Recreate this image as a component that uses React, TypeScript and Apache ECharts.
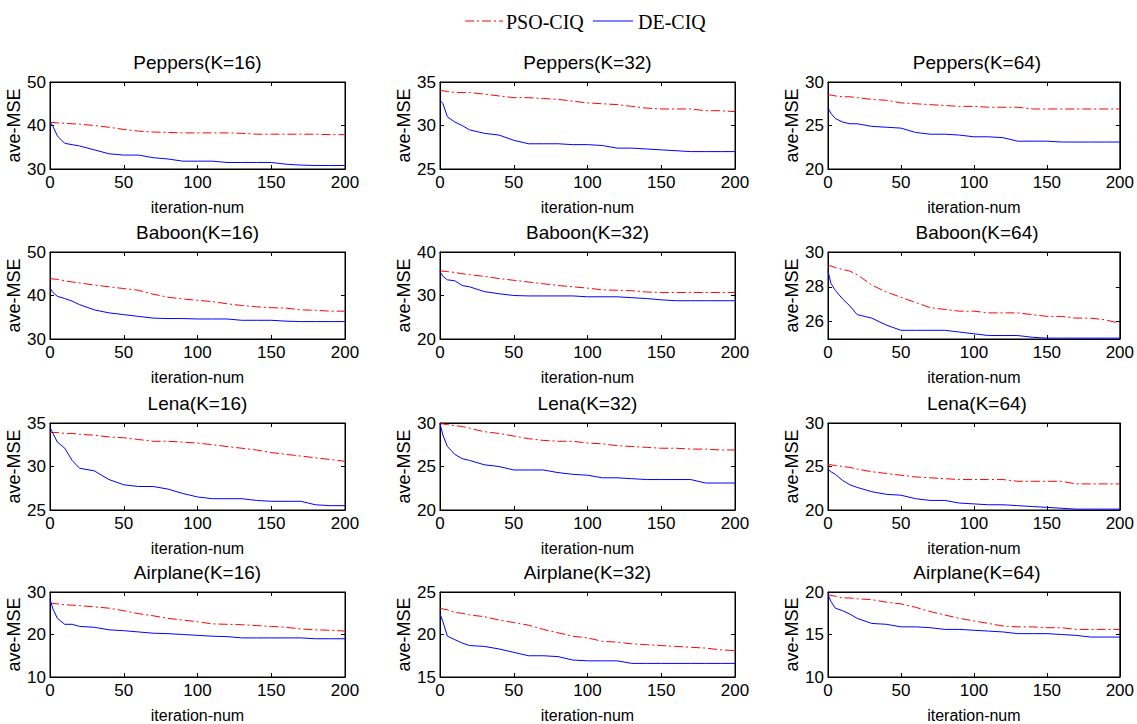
import React, { useEffect, useRef } from "react";
import * as echarts from "echarts";

const iterations = [0, 2, 5, 10, 15, 20, 30, 40, 50, 60, 70, 80, 90, 100, 110, 120, 130, 140, 150, 160, 170, 180, 190, 200];
const xTicks = [0, 50, 100, 150, 200];
const seriesNames = ["PSO-CIQ", "DE-CIQ"];

const titles = [
  "Peppers(K=16)", "Peppers(K=32)", "Peppers(K=64)",
  "Baboon(K=16)", "Baboon(K=32)", "Baboon(K=64)",
  "Lena(K=16)", "Lena(K=32)", "Lena(K=64)",
  "Airplane(K=16)", "Airplane(K=32)", "Airplane(K=64)",
];

const yMin = [30, 25, 20, 30, 20, 25, 25, 20, 20, 10, 15, 10];
const yMax = [50, 35, 30, 50, 40, 30, 35, 30, 30, 30, 25, 20];
const yTicks = [
  [30, 40, 50], [25, 30, 35], [20, 25, 30],
  [30, 40, 50], [20, 30, 40], [26, 28, 30],
  [25, 30, 35], [20, 25, 30], [20, 25, 30],
  [10, 20, 30], [15, 20, 25], [10, 15, 20],
];

const psoPeppers16 = [40.7, 40.7, 40.6, 40.5, 40.4, 40.3, 40.0, 39.6, 39.1, 38.7, 38.5, 38.4, 38.3, 38.3, 38.3, 38.3, 38.2, 38.0, 38.0, 38.0, 38.0, 38.0, 37.9, 37.9];
const dePeppers16 = [40.8, 39.8, 37.6, 35.9, 35.6, 35.3, 34.4, 33.5, 33.2, 33.2, 32.6, 32.3, 31.8, 31.8, 31.8, 31.5, 31.5, 31.5, 31.5, 31.1, 30.9, 30.8, 30.8, 30.8];
const psoPeppers32 = [34.0, 34.0, 33.9, 33.8, 33.8, 33.8, 33.6, 33.4, 33.2, 33.2, 33.1, 33.0, 32.8, 32.6, 32.5, 32.4, 32.2, 32.0, 31.9, 31.9, 31.9, 31.7, 31.7, 31.6];
const dePeppers32 = [32.9, 32.5, 31.0, 30.4, 30.0, 29.5, 29.1, 28.9, 28.3, 27.9, 27.9, 27.9, 27.8, 27.8, 27.7, 27.4, 27.4, 27.3, 27.2, 27.1, 27.0, 27.0, 27.0, 27.0];
const psoPeppers64 = [28.5, 28.5, 28.4, 28.3, 28.3, 28.2, 28.0, 27.9, 27.6, 27.5, 27.4, 27.3, 27.2, 27.2, 27.1, 27.1, 27.1, 26.9, 26.9, 26.9, 26.9, 26.9, 26.9, 26.9];
const dePeppers64 = [27.0, 26.4, 25.8, 25.4, 25.2, 25.2, 24.9, 24.8, 24.7, 24.2, 24.0, 24.0, 23.9, 23.7, 23.7, 23.6, 23.2, 23.2, 23.2, 23.1, 23.1, 23.1, 23.1, 23.1];
const psoBaboon16 = [43.9, 43.8, 43.7, 43.4, 43.1, 42.9, 42.4, 42.0, 41.6, 41.2, 40.3, 39.6, 39.2, 38.9, 38.6, 38.1, 37.7, 37.4, 37.2, 37.1, 36.7, 36.6, 36.4, 36.4];
const deBaboon16 = [41.7, 40.7, 39.8, 39.3, 38.7, 37.9, 36.7, 36.0, 35.6, 35.2, 34.8, 34.7, 34.7, 34.6, 34.6, 34.6, 34.3, 34.3, 34.3, 34.1, 34.0, 34.0, 34.0, 34.0];
const psoBaboon32 = [35.6, 35.6, 35.5, 35.3, 35.0, 34.8, 34.4, 33.9, 33.5, 33.1, 32.7, 32.3, 32.0, 31.7, 31.3, 31.2, 31.1, 30.8, 30.7, 30.7, 30.7, 30.7, 30.7, 30.7];
const deBaboon32 = [35.5, 34.4, 33.6, 33.4, 32.3, 32.0, 30.9, 30.4, 30.0, 29.9, 29.9, 29.9, 29.9, 29.7, 29.7, 29.7, 29.5, 29.3, 29.0, 28.8, 28.8, 28.8, 28.8, 28.8];
const psoBaboon64 = [29.2, 29.2, 29.1, 29.0, 28.9, 28.7, 28.1, 27.7, 27.4, 27.1, 26.8, 26.7, 26.6, 26.6, 26.5, 26.5, 26.5, 26.4, 26.3, 26.3, 26.2, 26.2, 26.1, 25.9];
const deBaboon64 = [28.9, 28.2, 27.8, 27.3, 26.9, 26.4, 26.2, 25.8, 25.5, 25.5, 25.5, 25.5, 25.4, 25.3, 25.2, 25.2, 25.2, 25.1, 25.05, 25.05, 25.05, 25.05, 25.05, 25.05];
const psoLena16 = [33.9, 33.9, 33.9, 33.8, 33.8, 33.7, 33.6, 33.4, 33.3, 33.1, 32.9, 32.9, 32.8, 32.7, 32.5, 32.3, 32.1, 31.9, 31.6, 31.4, 31.2, 31.0, 30.8, 30.6];
const deLena16 = [34.5, 33.8, 32.8, 32.1, 30.7, 29.8, 29.5, 28.5, 27.9, 27.7, 27.7, 27.4, 26.9, 26.5, 26.3, 26.3, 26.3, 26.1, 26.0, 26.0, 26.0, 25.6, 25.5, 25.5];
const psoLena32 = [29.9, 29.9, 29.8, 29.7, 29.6, 29.4, 29.0, 28.8, 28.5, 28.2, 28.0, 27.9, 27.9, 27.7, 27.6, 27.4, 27.3, 27.2, 27.1, 27.1, 27.0, 27.0, 26.9, 26.9];
const deLena32 = [29.9, 28.6, 27.3, 26.4, 25.9, 25.7, 25.2, 25.0, 24.6, 24.6, 24.6, 24.3, 24.1, 24.0, 23.7, 23.7, 23.6, 23.5, 23.5, 23.5, 23.5, 23.1, 23.1, 23.1];
const psoLena64 = [25.2, 25.2, 25.1, 25.0, 24.9, 24.7, 24.4, 24.2, 24.0, 23.8, 23.7, 23.6, 23.5, 23.5, 23.5, 23.5, 23.3, 23.3, 23.3, 23.3, 23.0, 23.0, 23.0, 23.0];
const deLena64 = [24.7, 24.4, 24.1, 23.4, 22.9, 22.6, 22.1, 21.8, 21.7, 21.3, 21.1, 21.1, 20.8, 20.7, 20.6, 20.6, 20.5, 20.4, 20.3, 20.2, 20.1, 20.1, 20.1, 20.1];
const psoAirplane16 = [27.4, 27.3, 27.2, 27.0, 26.9, 26.8, 26.5, 26.2, 25.6, 24.9, 24.4, 23.8, 23.4, 23.0, 22.5, 22.4, 22.3, 22.1, 21.9, 21.7, 21.3, 21.1, 21.0, 20.8];
const deAirplane16 = [28.3, 26.0, 23.8, 22.4, 22.4, 21.9, 21.7, 21.1, 20.9, 20.6, 20.3, 20.2, 20.0, 19.8, 19.6, 19.5, 19.2, 19.2, 19.2, 19.2, 19.2, 19.0, 19.0, 19.0];
const psoAirplane32 = [23.1, 23.0, 22.9, 22.6, 22.5, 22.3, 22.1, 21.7, 21.4, 21.1, 20.6, 20.2, 19.8, 19.6, 19.2, 19.1, 18.9, 18.8, 18.7, 18.6, 18.5, 18.4, 18.2, 18.1];
const deAirplane32 = [22.4, 21.5, 19.8, 19.4, 19.0, 18.7, 18.6, 18.3, 17.9, 17.5, 17.5, 17.4, 17.0, 16.9, 16.9, 16.9, 16.6, 16.6, 16.6, 16.6, 16.6, 16.6, 16.6, 16.6];
const psoAirplane64 = [19.7, 19.6, 19.5, 19.3, 19.3, 19.2, 19.1, 18.8, 18.6, 18.2, 17.7, 17.3, 16.9, 16.6, 16.3, 16.0, 15.9, 15.9, 15.8, 15.8, 15.6, 15.6, 15.6, 15.6];
const deAirplane64 = [19.7, 18.9, 18.1, 17.8, 17.4, 16.9, 16.3, 16.2, 15.9, 15.9, 15.8, 15.6, 15.6, 15.5, 15.4, 15.3, 15.1, 15.1, 15.1, 15.0, 14.9, 14.7, 14.7, 14.7];

const psoSeries = [psoPeppers16, psoPeppers32, psoPeppers64, psoBaboon16, psoBaboon32, psoBaboon64, psoLena16, psoLena32, psoLena64, psoAirplane16, psoAirplane32, psoAirplane64];
const deSeries = [dePeppers16, dePeppers32, dePeppers64, deBaboon16, deBaboon32, deBaboon64, deLena16, deLena32, deLena64, deAirplane16, deAirplane32, deAirplane64];

const colLeft = [50, 440, 828];
const colWidth = [295, 295, 298];
const rowTop = [82, 252, 423, 592];
const rowHeight = [87, 87, 87, 89];

const SANS = "'Liberation Sans', Arial, Helvetica, sans-serif";
const NARROW = "'Liberation Sans Narrow', 'Arial Narrow', 'Liberation Sans', Arial, sans-serif";
const SERIF = "'Liberation Serif', 'Times New Roman', serif";
const RED = "#ff0000";
const BLUE = "#0000ff";
const DASHDOT = [9, 3, 2, 3];

function buildOption() {
  const grids: any[] = [];
  const xAxes: any[] = [];
  const yAxes: any[] = [];
  const titleArr: any[] = [];
  const series: any[] = [];
  for (let i = 0; i < 12; i++) {
    const r = Math.floor(i / 3);
    const c = i % 3;
    const left = colLeft[c];
    const top = rowTop[r];
    const width = colWidth[c];
    const height = rowHeight[r];
    grids.push({ left, top, width, height, show: true, borderColor: "#000", borderWidth: 1, backgroundColor: "#fff", containLabel: false });
    titleArr.push({
      text: titles[i],
      left: left + width / 2,
      top: top - 31,
      textAlign: "center",
      padding: 0,
      textStyle: { fontFamily: SANS, fontSize: 19, fontWeight: "normal", color: "#000", lineHeight: 22 },
    });
    const tickCommon = { show: true, inside: true, length: 4, lineStyle: { color: "#000", width: 1 } };
    const lineCommon = { show: true, onZero: false, lineStyle: { color: "#000", width: 1 } };
    xAxes.push({
      type: "value", gridIndex: i, position: "bottom", min: 0, max: 200, interval: 50,
      axisLine: lineCommon, axisTick: { ...tickCommon, customValues: xTicks },
      axisLabel: { show: true, margin: 5, color: "#000", fontFamily: NARROW, fontSize: 17, customValues: xTicks },
      splitLine: { show: false },
      name: "iteration-num", nameLocation: "middle", nameGap: 30,
      nameTextStyle: { fontFamily: SANS, fontSize: 16, color: "#000" },
    });
    xAxes.push({
      type: "value", gridIndex: i, position: "top", min: 0, max: 200, interval: 50,
      axisLine: lineCommon, axisTick: { ...tickCommon, customValues: xTicks },
      axisLabel: { show: false }, splitLine: { show: false },
    });
    yAxes.push({
      type: "value", gridIndex: i, position: "left", min: yMin[i], max: yMax[i],
      axisLine: lineCommon, axisTick: { ...tickCommon, customValues: yTicks[i] },
      axisLabel: { show: true, margin: 4, color: "#000", fontFamily: NARROW, fontSize: 17, customValues: yTicks[i] },
      splitLine: { show: false },
      name: "ave-MSE", nameLocation: "middle", nameGap: 24, nameRotate: 90,
      nameTextStyle: { fontFamily: SANS, fontSize: 18, color: "#000" },
    });
    yAxes.push({
      type: "value", gridIndex: i, position: "right", min: yMin[i], max: yMax[i],
      axisLine: lineCommon, axisTick: { ...tickCommon, customValues: yTicks[i] },
      axisLabel: { show: false }, splitLine: { show: false },
    });
    series.push({
      name: seriesNames[0], type: "line", xAxisIndex: 2 * i, yAxisIndex: 2 * i,
      data: iterations.map((x, k) => [x, psoSeries[i][k]]),
      symbol: "none", showSymbol: false,
      lineStyle: { color: RED, width: 1, type: DASHDOT },
      itemStyle: { color: RED },
    });
    series.push({
      name: seriesNames[1], type: "line", xAxisIndex: 2 * i, yAxisIndex: 2 * i,
      data: iterations.map((x, k) => [x, deSeries[i][k]]),
      symbol: "none", showSymbol: false,
      lineStyle: { color: BLUE, width: 1, type: "solid" },
      itemStyle: { color: BLUE },
    });
  }
  const legendY = 21;
  const graphic = [
    { type: "line", shape: { x1: 465, y1: legendY, x2: 503, y2: legendY }, style: { stroke: RED, lineWidth: 1, lineDash: DASHDOT } },
    { type: "text", x: 506, y: legendY + 1, style: { text: seriesNames[0], font: `20px ${SERIF}`, fill: "#000", textVerticalAlign: "middle", verticalAlign: "middle" } },
    { type: "line", shape: { x1: 593, y1: legendY, x2: 633, y2: legendY }, style: { stroke: BLUE, lineWidth: 1 } },
    { type: "text", x: 638, y: legendY + 1, style: { text: seriesNames[1], font: `20px ${SERIF}`, fill: "#000", textVerticalAlign: "middle", verticalAlign: "middle" } },
  ];
  return {
    animation: false,
    backgroundColor: "#fff",
    title: titleArr,
    grid: grids,
    xAxis: xAxes,
    yAxis: yAxes,
    series,
    graphic,
  };
}

export default function App() {
  const ref = useRef<HTMLDivElement>(null);
  useEffect(() => {
    if (!ref.current) return;
    const chart = echarts.init(ref.current, undefined, { renderer: "svg" });
    chart.setOption(buildOption() as any);
    return () => chart.dispose();
  }, []);
  return (
    <div
      ref={ref}
      style={{ position: "fixed", left: 0, top: 0, width: 1137, height: 724, background: "#fff" }}
    />
  );
}
